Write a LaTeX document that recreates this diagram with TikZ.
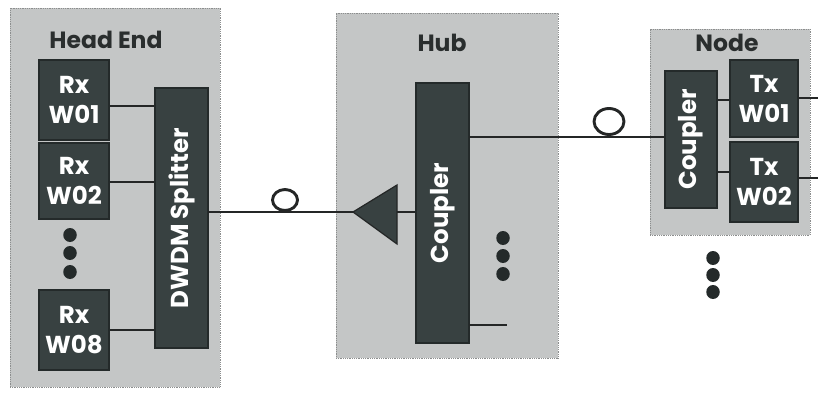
\documentclass[tikz,border=0pt]{standalone}
\usepackage{fontspec}
\setmainfont{Poppins}
\definecolor{regiongray}{HTML}{C4C6C6}
\definecolor{regionedge}{HTML}{8C8E8E}
\definecolor{darkfill}{HTML}{384141}
\definecolor{darkedge}{HTML}{242A2A}
\definecolor{inkline}{HTML}{242626}
\definecolor{titleink}{HTML}{2A2E2E}
\tikzset{
  region/.style={draw=regionedge, densely dotted, line width=0.8pt, fill=regiongray, inner sep=0pt},
  darkbox/.style={draw=darkedge, line width=1.5pt, fill=darkfill, inner sep=0pt, text=white,
     font=\bfseries\fontsize{24.5}{30}\selectfont, align=center},
  vertbox/.style={darkbox, rotate=90},
  title/.style={text=titleink, font=\bfseries\fontsize{23.5}{24}\selectfont, inner sep=0pt},
  wire/.style={draw=inkline, line width=2.9pt},
  ring/.style={draw=inkline, line width=2.9pt, ellipse, minimum width=25pt, minimum height=21pt, inner sep=0pt},
  dot/.style={fill=darkedge, ellipse, minimum width=13.5pt, minimum height=14pt, inner sep=0pt},
}
\usetikzlibrary{shapes.geometric}
\begin{document}
\begin{tikzpicture}[x=1pt,y=-1pt]
\useasboundingbox (0,0) rectangle (818,393);
% regions
\node[region, minimum width=210pt, minimum height=379pt] (he) at (115,197.5) {};
\node[region, minimum width=222pt, minimum height=345pt] (hub) at (447,185.5) {};
\node[region, minimum width=160pt, minimum height=206pt] (nd) at (730,132) {};
\node[title] (het) at (106,40) {Head End};
\node[title] (hubt) at (442,43) {Hub};
\node[title] (ndt) at (727,43) {Node};
% head end
\node[darkbox, minimum width=70pt, minimum height=80pt] (rx1) at (74,100) {Rx\\W01};
\node[darkbox, minimum width=70pt, minimum height=76pt] (rx2) at (74,181) {Rx\\W02};
\node[darkbox, minimum width=70pt, minimum height=80pt] (rx8) at (74,330) {Rx\\W08};
\node[dot] (hd1) at (70,235) {};
\node[dot] (hd2) at (70,253) {};
\node[dot] (hd3) at (70,272) {};
\node[vertbox, minimum width=260pt, minimum height=53pt] (dw) at (181.5,218) {DWDM Splitter};
% hub
\node[vertbox, minimum width=260pt, minimum height=53pt] (hc) at (442.5,213) {Coupler};
\node[dot] (ud1) at (503,238) {};
\node[dot] (ud2) at (503,256) {};
\node[dot] (ud3) at (503,274) {};
% node
\node[vertbox, minimum width=137pt, minimum height=52pt] (nc) at (691,139.5) {Coupler};
\node[darkbox, minimum width=68pt, minimum height=77pt] (tx1) at (764,98.5) {Tx\\W01};
\node[darkbox, minimum width=68pt, minimum height=80pt] (tx2) at (764,182) {Tx\\W02};
\node[dot] (nd1) at (713,258) {};
\node[dot] (nd2) at (713,275) {};
\node[dot] (nd3) at (713,292) {};
% amplifier
\coordinate (amptip) at (353,212);
\coordinate (ampback) at (397,212);
\draw[draw=inkline, line width=1.2pt, fill=darkfill] (amptip) -- (397,185) -- (397,244) -- cycle;
% coordinates
\coordinate (dwout) at (208,212);
\coordinate (hubout) at (469,137);
\coordinate (hubbot) at (469,325);
\coordinate (hubbotend) at (507,325);
\coordinate (tx1out) at (818,98);
\coordinate (tx2out) at (818,178);
% wires
\draw[wire] (rx1.east |- 0,106) -- (dw.north |- 0,106);
\draw[wire] (rx2.east |- 0,182) -- (dw.north |- 0,182);
\draw[wire] (rx8.east) -- (rx8.east -| dw.north);
\draw[wire] (dwout) -- (amptip);
\draw[wire] (ampback) -- (ampback -| hc.north);
\draw[wire] (hubout) -- (hubout -| nc.north);
\draw[wire] (hubbot) -- (hubbotend);
\draw[wire] (nc.south |- 0,100) -- (tx1.west |- 0,100);
\draw[wire] (nc.south |- 0,172) -- (tx2.west |- 0,172);
\draw[wire] (tx1.east |- tx1out) -- (tx1out);
\draw[wire] (tx2.east |- tx2out) -- (tx2out);
% fibre rings
\node[ring] (ring1) at (285,200) {};
\node[ring, minimum width=30pt, minimum height=26pt] (ring2) at (609,121.5) {};
\end{tikzpicture}
\end{document}
